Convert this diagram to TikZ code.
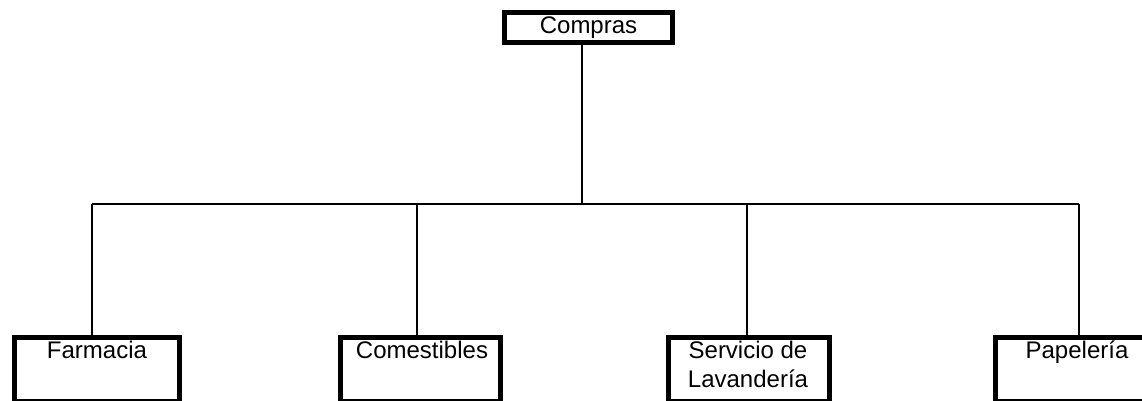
\documentclass[tikz,border=0pt]{standalone}
\usepackage{fontspec}
\setmainfont{Liberation Sans}
\begin{document}
\begin{tikzpicture}[x=1pt,y=-1pt,
  box/.style={draw, line width=5pt, inner sep=0pt, font=\fontsize{24}{29}\selectfont},
  lbl/.style={font=\fontsize{24}{29}\selectfont, inner sep=0pt, align=center, anchor=north},
  conn/.style={line width=1.4pt}]
\useasboundingbox (0,0) rectangle (1142,401);
\clip (0,0) rectangle (1142,401);
% top box
\node[box, minimum width=168pt, minimum height=30pt] (compras) at (588.5,27.5) {Compras};
% bottom boxes
\node[box, minimum width=165pt, minimum height=64pt] (far) at (97,369.5) {};
\node[box, minimum width=160pt, minimum height=64pt] (com) at (420.5,369.5) {};
\node[box, minimum width=161pt, minimum height=64pt] (ser) at (749,369.5) {};
\node[box, minimum width=161pt, minimum height=64pt] (pap) at (1076,369.5) {};
% labels
\node[lbl] (tfar) at (97,341) {Farmacia};
\node[lbl] (tcom) at (422,341) {Comestibles};
\node[lbl] (tser) at (748,341) {Servicio de\\Lavandería};
\node[lbl] (tpap) at (1077,341) {Papelería};
% connectors
\coordinate (bus) at (582,204);
\coordinate (b1) at (92,204);
\coordinate (b2) at (417,204);
\coordinate (b3) at (747,204);
\coordinate (b4) at (1079,204);
\draw[conn] (compras.south -| bus) -- (bus);
\draw[conn] (b1) -- (b4);
\draw[conn] (b1) -- (far.north -| b1);
\draw[conn] (b2) -- (com.north -| b2);
\draw[conn] (b3) -- (ser.north -| b3);
\draw[conn] (b4) -- (pap.north -| b4);
\end{tikzpicture}
\end{document}
